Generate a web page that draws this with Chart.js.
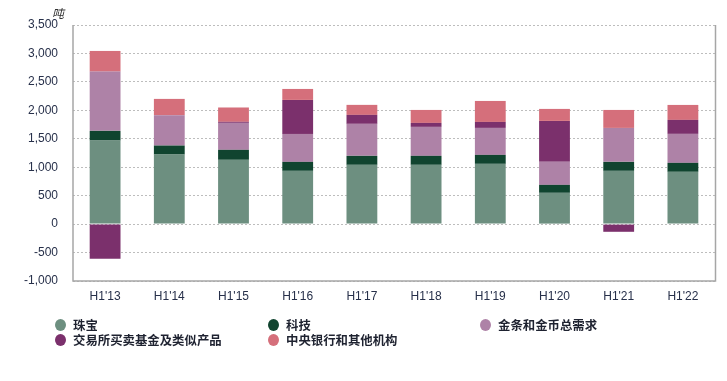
<!DOCTYPE html>
<html>
<head>
<meta charset="utf-8">
<script src="https://cdn.jsdelivr.net/npm/chart.js@4/dist/chart.umd.min.js"></script>
<style>
  html, body { margin:0; padding:0; background:#fff; }
  #wrap { position:relative; width:727px; height:381px; overflow:hidden; }
  #c { position:absolute; left:0; top:0; }
  #unit { position:absolute; left:52px; top:4px; font-family:"Noto Sans CJK SC", sans-serif; font-style:italic; font-size:12px; color:#333; }
  .lg { position:absolute; font-family:"Noto Sans CJK SC", sans-serif; font-size:12.4px; font-weight:bold; color:#1e2230; line-height:14px; white-space:nowrap; }
  .lg i { position:absolute; width:11px; height:12px; border-radius:50%; left:-18px; top:1px; }
</style>
</head>
<body>
<div id="wrap">
  <canvas id="c" width="727" height="381"></canvas>
  <div id="unit">吨</div>
  <div id="legend"></div>
</div>
<script>
const categories = ["H1'13","H1'14","H1'15","H1'16","H1'17","H1'18","H1'19","H1'20","H1'21","H1'22"];
const seriesNames = ["珠宝","科技","金条和金币总需求","交易所买卖基金及类似产品","中央银行和其他机构"];
const jewellery   = [1469,1223,1130, 936,1042,1042,1059, 550, 936, 919];
const technology  = [ 170, 158, 176, 158, 158, 158, 158, 140, 158, 158];
const barsCoins   = [1042, 533, 474, 492, 562, 509, 474, 404, 597, 509];
const etfs        = [-609,   0,  18, 597, 158,  70, 105, 720,-135, 246];
const centralBank = [ 363, 287, 252, 193, 176, 228, 369, 211, 316, 263];
const yTicks = [-1000,-500,0,500,1000,1500,2000,2500,3000,3500];

const colors = ["#6d8f80","#10442f","#ae82a7","#7b306c","#d56f7b"];
const values = [jewellery, technology, barsCoins, etfs, centralBank];

const datasets = seriesNames.map((n,i)=>({
  label:n, data:values[i], backgroundColor:colors[i], borderWidth:0,
  barPercentage:0.48, categoryPercentage:1.0, stack:'s'
}));

const borders = {
  id:'borders',
  afterDraw(chart){
    const {ctx, chartArea:a} = chart;
    ctx.save();
    ctx.strokeStyle = '#a6a6a6'; ctx.lineWidth = 1.5;
    ctx.setLineDash([]);
    ctx.beginPath();
    ctx.moveTo(a.left, a.top); ctx.lineTo(a.left, a.bottom);
    ctx.lineTo(a.right+0.5, a.bottom);
    ctx.lineTo(a.right+0.5, a.top);
    ctx.stroke();
    ctx.restore();
  }
};

new Chart(document.getElementById('c'), {
  type:'bar',
  data:{ labels:categories, datasets },
  options:{
    responsive:false, animation:false,
    layout:{ padding:{ left:0, right:12, top:25, bottom:70 } },
    plugins:{ legend:{display:false}, tooltip:{enabled:false} },
    scales:{
      x:{
        stacked:true,
        grid:{ display:false, drawTicks:false },
        border:{ display:false },
        ticks:{ color:'#27304a', font:{ family:'"Liberation Sans", Arial, sans-serif', size:12 }, padding:8, maxRotation:0 },
        afterFit(s){ s.height = 30; }
      },
      y:{
        stacked:true, min:-1000, max:3500,
        afterBuildTicks(s){ s.ticks = yTicks.map(v=>({value:v})); },
        grid:{ color:'#bdbdbd', lineWidth:1, drawTicks:false },
        border:{ display:false, dash:[2,2] },
        ticks:{ color:'#27304a', font:{ family:'"Liberation Sans", Arial, sans-serif', size:12 }, padding:15,
          callback:v=>v.toLocaleString('en-US') },
        afterFit(s){ s.width = 73; }
      }
    }
  },
  plugins:[borders]
});

// legend (HTML) from the datasets
const pos = [[73,318],[286,318],[498,318],[73,333],[286,333]];
const lg = document.getElementById('legend');
seriesNames.forEach((name,k)=>{
  const d = document.createElement('div');
  d.className='lg';
  d.style.left = pos[k][0]+'px'; d.style.top = pos[k][1]+'px';
  d.innerHTML = '<i style="background:'+colors[k]+'"></i>'+name;
  lg.appendChild(d);
});
</script>
</body>
</html>
